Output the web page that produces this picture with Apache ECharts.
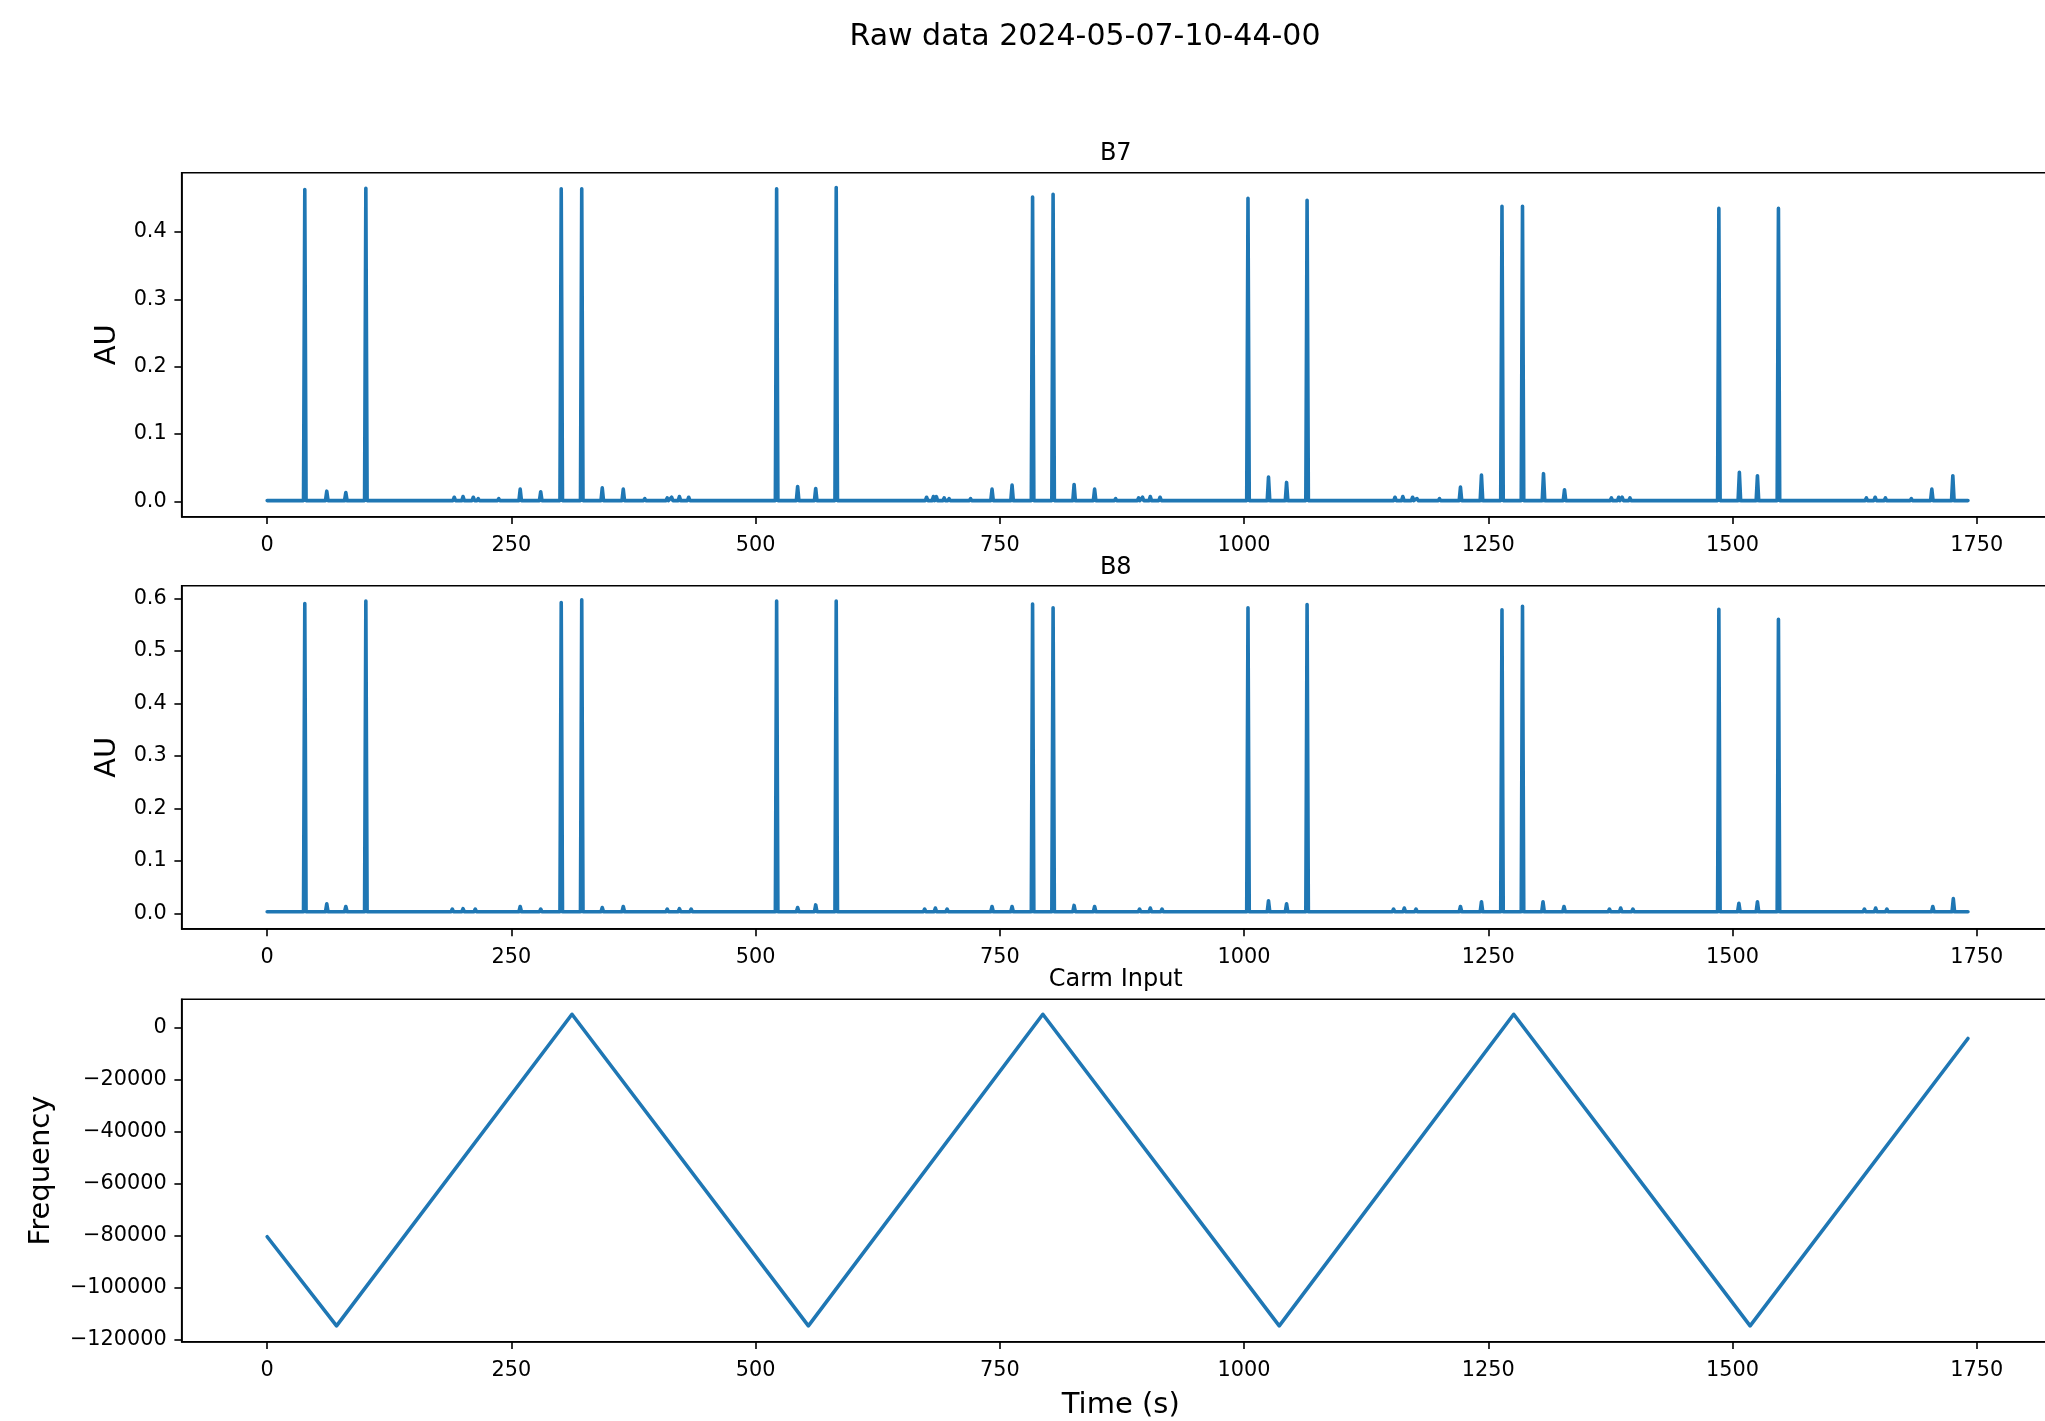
<!DOCTYPE html>
<html>
<head>
<meta charset="utf-8">
<title>Raw data 2024-05-07-10-44-00</title>
<script src="https://cdn.jsdelivr.net/npm/echarts@6/dist/echarts.min.js"></script>
<style>
  html, body { margin: 0; padding: 0; background: #ffffff; overflow: hidden; }
  /* the figure is wider than the window: the right spine falls outside the view */
  #chart { width: 2110px; height: 1421px; }
</style>
</head>
<body>
<div id="chart"></div>
<script>
// ---------------- data ----------------
const timeTicks = [0, 250, 500, 750, 1000, 1250, 1500, 1750];
const b7Ticks = [0, 0.1, 0.2, 0.3, 0.4];
const b8Ticks = [0, 0.1, 0.2, 0.3, 0.4, 0.5, 0.6];
const carmTicks = [-120000, -100000, -80000, -60000, -40000, -20000, 0];

// recording window (s)
const recordStart = 0;
const recordEnd = 1741;

// B7 photodiode: resonance peak times (s) and peak amplitudes (AU)
const b7Baseline = 0.001;
const b7PeakTime = [
  38.5, 61, 80.5, 101, 191.5, 200.5, 211, 216, 237, 259, 280, 301, 322, 343, 364.5,
  386.5, 409.5, 414, 422, 431.5, 521.5, 543, 561.5, 582.5,
  675, 682, 685, 693, 698, 720, 742, 762.5, 783.5, 804.5, 826, 847, 868.5, 892, 896, 904, 914,
  1004, 1025, 1043.5, 1064.5, 1154.5, 1162.5, 1172.5, 1177, 1200, 1221.5, 1243, 1264, 1285,
  1306.5, 1328, 1349.5, 1376, 1383.5, 1387, 1395, 1486, 1507, 1525.5, 1547,
  1637, 1646, 1656.5, 1683, 1704, 1725.5
];
const b7PeakHeight = [
  0.463, 0.015, 0.013, 0.465, 0.006, 0.007, 0.006, 0.004, 0.004, 0.018, 0.014, 0.464, 0.464, 0.020, 0.018,
  0.004, 0.005, 0.006, 0.007, 0.006, 0.464, 0.022, 0.019, 0.466,
  0.006, 0.007, 0.007, 0.005, 0.004, 0.004, 0.018, 0.024, 0.452, 0.456, 0.025, 0.018, 0.004, 0.005, 0.006, 0.007, 0.006,
  0.450, 0.036, 0.028, 0.447, 0.006, 0.007, 0.006, 0.004, 0.004, 0.021, 0.039, 0.438, 0.438,
  0.041, 0.017, 0.003, 0.005, 0.006, 0.006, 0.005, 0.435, 0.043, 0.038, 0.435,
  0.005, 0.006, 0.005, 0.004, 0.018, 0.038
];

// B8 photodiode: resonance peak times (s) and peak amplitudes (AU)
const b8Baseline = 0.003;
const b8PeakTime = [
  38.5, 61, 80.5, 101, 189.5, 200.5, 213, 259, 280, 301, 322, 343, 364.5, 409.5, 422, 434,
  521.5, 543, 561.5, 582.5, 673, 684, 696, 742, 762.5, 783.5, 804.5, 826, 847, 893, 904, 916,
  1004, 1025, 1043.5, 1064.5, 1153, 1164, 1176, 1221.5, 1243, 1264, 1285, 1306, 1327.5,
  1374, 1385.5, 1398, 1486, 1506.5, 1525.5, 1547, 1635, 1646.5, 1658, 1705, 1726
];
const b8PeakHeight = [
  0.590, 0.018, 0.013, 0.595, 0.008, 0.009, 0.008, 0.013, 0.008, 0.592, 0.597, 0.011, 0.013, 0.008, 0.009, 0.008,
  0.595, 0.011, 0.016, 0.595, 0.008, 0.010, 0.008, 0.013, 0.013, 0.589, 0.582, 0.015, 0.013, 0.008, 0.010, 0.008,
  0.582, 0.024, 0.018, 0.588, 0.008, 0.010, 0.008, 0.013, 0.022, 0.578, 0.585, 0.022, 0.013,
  0.008, 0.010, 0.008, 0.579, 0.019, 0.022, 0.560, 0.008, 0.010, 0.008, 0.013, 0.028
];

// Carm frequency ramp: turning points (s) and frequency values
const carmTime = [0, 71, 312, 554, 794, 1036, 1276, 1518, 1741];
const carmFreq = [-80400, -114600, 5000, -114600, 5000, -114600, 5000, -114600, -4300];

// ---------------- helpers ----------------
const LINE_COLOR = '#1f77b4';
const LINE_WIDTH = 3.6;
const FONT = '"DejaVu Sans", "Liberation Sans", sans-serif';
const SPIKE_HALF_WIDTH = 1.3; // seconds, drawing half-width of each resonance spike

function peakTrace(times, heights, base) {
  const pts = [[recordStart, base]];
  times.forEach((t, i) => {
    pts.push([t - SPIKE_HALF_WIDTH, base], [t, heights[i]], [t + SPIKE_HALF_WIDTH, base]);
  });
  pts.push([recordEnd, base]);
  return pts;
}

function zip(xs, ys) { return xs.map((x, i) => [x, ys[i]]); }

function minusFmt(v) {
  return v < 0 ? '\u2212' + Math.abs(v) : String(v);
}

// figure layout (px)
const AX_LEFT = 181.7;
const X_MIN = -87.5, X_MAX = 1835;
const PX_PER_S = 0.9769;
const AX_WIDTH = (X_MAX - X_MIN) * PX_PER_S;
const panels = [
  { top: 172.7, height: 344.0 },
  { top: 585.7, height: 343.2 },
  { top: 999.3, height: 342.4 }
];
const TITLE_X = AX_LEFT + AX_WIDTH / 2 - 5;

const axisLineStyle = { color: '#000', width: 1.6 };
const tickLabelStyle = { color: '#000', fontSize: 20.8, fontFamily: FONT };

function xAxisFor(i, withName) {
  return {
    type: 'value', gridIndex: i, min: X_MIN, max: X_MAX,
    name: withName ? 'Time (s)' : '',
    nameLocation: 'middle', nameGap: 49,
    nameTextStyle: { color: '#000', fontSize: 29, fontFamily: FONT },
    axisLine: { show: true, onZero: false, lineStyle: axisLineStyle },
    axisTick: { show: true, customValues: timeTicks, length: 7.3, lineStyle: axisLineStyle },
    axisLabel: Object.assign({ customValues: timeTicks, margin: 18, formatter: v => String(v) }, tickLabelStyle),
    splitLine: { show: false }
  };
}

function yAxisFor(i, min, max, ticks, fmt, name, gap) {
  return {
    type: 'value', gridIndex: i, min: min, max: max,
    name: name, nameLocation: 'middle', nameRotate: 90, nameGap: gap,
    nameTextStyle: { color: '#000', fontSize: 29, fontFamily: FONT },
    axisLine: { show: true, onZero: false, lineStyle: axisLineStyle },
    axisTick: { show: true, customValues: ticks, length: 7.3, lineStyle: axisLineStyle },
    axisLabel: Object.assign({ customValues: ticks, margin: 15, formatter: fmt }, tickLabelStyle),
    splitLine: { show: false }
  };
}

function lineSeries(i, data) {
  return {
    type: 'line', xAxisIndex: i, yAxisIndex: i, data: data,
    showSymbol: false, symbol: 'none', sampling: null, animation: false,
    lineStyle: { color: LINE_COLOR, width: LINE_WIDTH, join: 'round', cap: 'round' },
    clip: true
  };
}

function panelTitle(text, y) {
  return {
    type: 'text', x: TITLE_X, y: y,
    style: { text: text, font: '24px ' + FONT, fill: '#000', align: 'center', verticalAlign: 'middle' }
  };
}

const chart = echarts.init(document.getElementById('chart'), null, { renderer: 'canvas' });
chart.setOption({
  backgroundColor: '#ffffff',
  animation: false,
  grid: panels.map(p => ({
    left: AX_LEFT, top: p.top, width: AX_WIDTH, height: p.height,
    show: true, borderColor: '#000', borderWidth: 1.6, backgroundColor: 'transparent',
    containLabel: false
  })),
  xAxis: [xAxisFor(0, false), xAxisFor(1, false), xAxisFor(2, true)],
  yAxis: [
    yAxisFor(0, -0.0229, 0.488, b7Ticks, v => v.toFixed(1), 'AU', 60),
    yAxisFor(1, -0.0297, 0.624, b8Ticks, v => v.toFixed(1), 'AU', 60),
    yAxisFor(2, -120690, 10750, carmTicks, minusFmt, 'Frequency', 126)
  ],
  series: [
    lineSeries(0, peakTrace(b7PeakTime, b7PeakHeight, b7Baseline)),
    lineSeries(1, peakTrace(b8PeakTime, b8PeakHeight, b8Baseline)),
    lineSeries(2, zip(carmTime, carmFreq))
  ],
  graphic: [
    {
      type: 'text', x: 1085, y: 37,
      style: { text: 'Raw data 2024-05-07-10-44-00', font: '30px ' + FONT, fill: '#000', align: 'center', verticalAlign: 'middle' }
    },
    panelTitle('B7', 154),
    panelTitle('B8', 568),
    panelTitle('Carm Input', 980)
  ]
});
</script>
</body>
</html>
